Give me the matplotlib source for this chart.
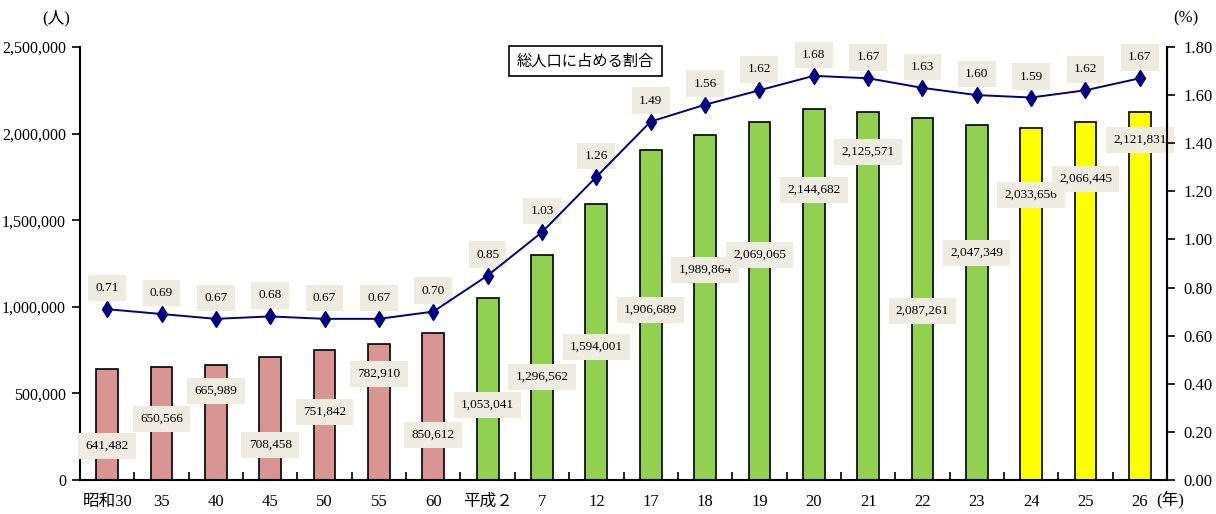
import matplotlib
matplotlib.use("Agg")
import matplotlib.pyplot as plt
import numpy as np

plt.rcParams['font.family'] = ['Liberation Serif', 'Noto Sans CJK JP', 'DejaVu Sans']

# ── data ──────────────────────────────────────────────────────────────────
years = ["昭和30", "35", "40", "45", "50", "55", "60", "平成２", "7", "12",
         "17", "18", "19", "20", "21", "22", "23", "24", "25", "26"]
population = [641482, 650566, 665989, 708458, 751842, 782910, 850612,
              1053041, 1296562, 1594001, 1906689, 1989864, 2069065, 2144682,
              2125571, 2087261, 2047349, 2033656, 2066445, 2121831]
share = [0.71, 0.69, 0.67, 0.68, 0.67, 0.67, 0.70, 0.85, 1.03, 1.26,
         1.49, 1.56, 1.62, 1.68, 1.67, 1.63, 1.60, 1.59, 1.62, 1.67]
# vertical position (data units) of the population label boxes
label_y = [196000, 352000, 514000, 202000, 393000, 612000, 260000,
           433000, 595000, 768000, 982000, 1212000, 1299000, 1674000,
           1894000, 976000, 1311000, 1645000, 1738000, 1963000]
# era colour group: 0 = Showa, 1 = Heisei to 23, 2 = Heisei 24-
group = [0] * 7 + [1] * 10 + [2] * 3

colors = {0: "#D99594", 1: "#92D050", 2: "#FFFF00"}
box_bg = "#EEECE1"
line_col = "#000080"

fig = plt.figure(figsize=(12.16, 5.14), dpi=100)
ax = fig.add_axes([0.0658, 0.0661, 0.8939, 0.8425])
ax2 = ax.twinx()

x = np.arange(len(years))
ax.bar(x, population, width=0.4, color=[colors[g] for g in group],
       edgecolor="black", linewidth=1.2, zorder=2)
for xi, v, ly in zip(x, population, label_y):
    ax.text(xi, ly, f"{v:,}", ha="center", va="center", fontsize=9.5,
            bbox=dict(boxstyle="square,pad=0.55", fc=box_bg, ec="none"), zorder=5)

ax.set_xlim(-0.5, len(years) - 0.5)
ax.set_ylim(0, 2500000)
ax.set_yticks(np.arange(0, 2500001, 500000))
ax.set_yticklabels([f"{v:,}" for v in range(0, 2500001, 500000)], fontsize=11.5)
ax.set_xticks(x)
ax.set_xticklabels(years, fontsize=12)
ax.set_xticks(np.arange(0.5, len(years) - 1, 1), minor=True)
ax.tick_params(axis="x", which="major", length=0, pad=10)
ax.tick_params(axis="x", which="minor", direction="in", length=6, width=1.2)
ax.tick_params(axis="y", direction="out", length=6, width=1.2, pad=4)
for sp in ["top"]:
    ax.spines[sp].set_visible(False)
    ax2.spines[sp].set_visible(False)
for sp in ["left", "bottom"]:
    ax.spines[sp].set_linewidth(1.5)
ax2.spines["right"].set_linewidth(1.5)
ax2.spines["left"].set_visible(False)
ax2.spines["bottom"].set_visible(False)

ax2.plot(x, share, color=line_col, lw=1.4, marker="d", ms=8, zorder=4)
for xi, s in zip(x, share):
    ax2.annotate(f"{s:.2f}", (xi, s), xytext=(0, 21), textcoords="offset pixels",
                 ha="center", va="center", fontsize=9.5,
                 bbox=dict(boxstyle="square,pad=0.55", fc=box_bg, ec="none"))
ax2.set_ylim(0, 1.8)
ax2.set_yticks(np.arange(0, 1.81, 0.2))
ax2.set_yticklabels([f"{v:.2f}" for v in np.arange(0, 1.81, 0.2)], fontsize=12)
ax2.tick_params(axis="y", direction="out", length=6, width=1.2, pad=6)

fig.text(0.046, 0.965, "(人)", ha="center", va="center", fontsize=12)
fig.text(0.975, 0.965, "(%)", ha="center", va="center", fontsize=12)
ax.text(19.3, -0.046, "(年)", transform=ax.get_xaxis_transform(),
        ha="left", va="center", fontsize=12)
ax2.text(0.465, 0.968, "総人口に占める割合", transform=ax2.transAxes, ha="center", va="center",
         fontsize=11, bbox=dict(boxstyle="square,pad=0.5", fc="white", ec="black", lw=1.2),
         zorder=6)

fig.savefig("out.png", dpi=100)
